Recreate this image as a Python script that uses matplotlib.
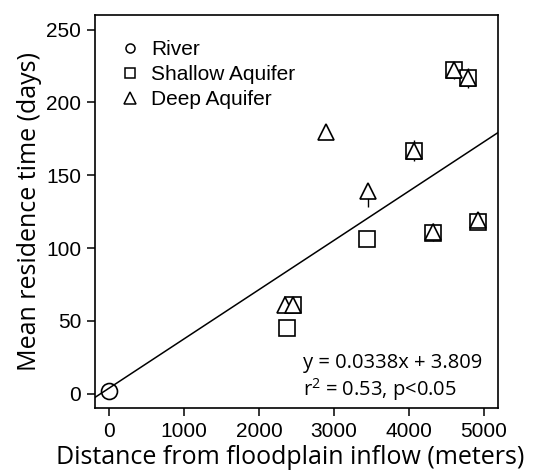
import numpy as np
import matplotlib
matplotlib.use('Agg')
import matplotlib.pyplot as plt
from matplotlib.lines import Line2D

plt.rcParams['font.family'] = ['Liberation Sans', 'DejaVu Sans']
plt.rcParams['mathtext.default'] = 'regular'

# data
river_x = [0]
river_y = [2]

shallow_x = [2380, 2460, 3440, 4070, 4330, 4610, 4790, 4930]
shallow_y = [45, 61, 106, 167, 110, 222, 217, 118]

deep_x = [2350, 2460, 2900, 3450, 4070, 4330, 4610, 4790, 4930]
deep_y = [61, 61, 180, 139, 167, 111, 222, 217, 119]
deep_err_lo = [0, 0, 0, 11, 7, 6, 6, 7, 6]
deep_err_hi = [0, 0, 0, 3, 7, 6, 6, 7, 6]

slope = 0.0338
intercept = 3.809
fit_text = ['y = 0.0338x + 3.809', 'r$^2$ = 0.53, p<0.05']

xlim = (-190, 5190)
ylim = (-10, 260)

fig = plt.figure(figsize=(5.37, 4.74), dpi=100)
ax = fig.add_axes([0.177, 0.139, 0.75, 0.829])

# regression line across the whole axis
xs = np.array(xlim)
ax.plot(xs, slope * xs + intercept, color='black', lw=1.1, zorder=1)

ax.errorbar(deep_x, deep_y, yerr=[deep_err_lo, deep_err_hi], fmt='none', ecolor='black',
            elinewidth=1.0, capsize=0, zorder=2)
ax.plot(shallow_x, shallow_y, 's', ms=11, mfc='white', mec='black', mew=1.2, zorder=3)
ax.plot(deep_x, deep_y, '^', ms=11, mfc='white', mec='black', mew=1.2, zorder=4)
ax.plot(river_x, river_y, 'o', ms=11.5, mfc='none', mec='black', mew=1.2, zorder=5)

ax.set_xlim(*xlim)
ax.set_ylim(*ylim)
ax.set_xticks([0, 1000, 2000, 3000, 4000, 5000])
ax.set_yticks([0, 50, 100, 150, 200, 250])
ax.tick_params(labelsize=15, length=6, width=1.1, direction='out', pad=4)
for s in ax.spines.values():
    s.set_linewidth(1.2)

ax.set_xlabel('Distance from floodplain inflow (meters)', family='Open Sans',
              fontsize=18, labelpad=1)
ax.xaxis.set_label_coords(0.485, -0.095)
ax.set_ylabel('Mean residence time (days)', family='Open Sans', fontsize=18, labelpad=3)

ax.text(2583, 17.9, fit_text[0], family='Open Sans', fontsize=14.5, va='baseline')
ax.text(2583, -1.4, fit_text[1], family='Open Sans', fontsize=14.5, va='baseline')

handles = [
    Line2D([], [], ls='none', marker='o', ms=6.5, mfc='none', mec='black', mew=1.1),
    Line2D([], [], ls='none', marker='s', ms=6.5, mfc='none', mec='black', mew=1.1),
    Line2D([], [], ls='none', marker='^', ms=8.5, mfc='none', mec='black', mew=1.1),
]
ax.legend(handles, ['River', 'Shallow Aquifer', 'Deep Aquifer'], loc='upper left',
          frameon=False, fontsize=15, handlelength=1.0, handletextpad=0.5,
          labelspacing=0.3, borderaxespad=0.5, bbox_to_anchor=(0.015, 0.985))

fig.savefig('out.png', dpi=100)
